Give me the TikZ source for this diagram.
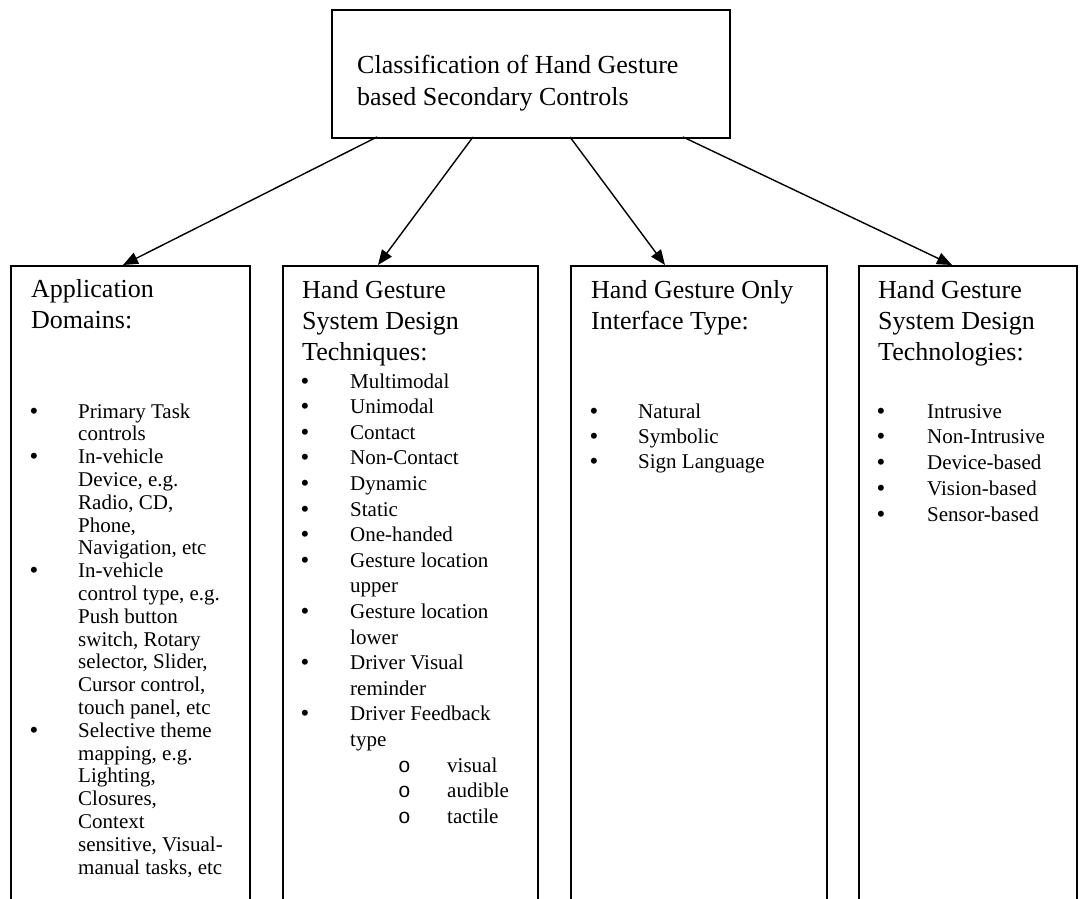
\documentclass[tikz,border=0pt]{standalone}
\usepackage{fontspec}
\setmainfont{Liberation Serif}
\setmonofont{Liberation Mono}
\usetikzlibrary{arrows.meta}
\newcommand\bodyfnt{\fontsize{21}{21}\selectfont}
\newcommand\headfnt{\fontsize{26}{26}\selectfont}
\newcommand\bulfnt{\fontsize{22}{22}\selectfont\bfseries}
\tikzset{
  boxnode/.style={draw=black, line width=1.8pt, fill=none, inner sep=0pt, anchor=north west},
  txt/.style={anchor=base west, inner sep=0pt, font=\bodyfnt, text height=15pt, text depth=4pt},
  bul/.style={anchor=base west, inner sep=0pt, font=\bulfnt, text height=13pt, text depth=0pt},
  head/.style={anchor=base west, inner sep=0pt, font=\headfnt},
  arr/.style={line width=1.4pt, -{Triangle[length=15pt,width=12pt]}}
}
\begin{document}
\begin{tikzpicture}[x=1pt,y=-1pt]
\useasboundingbox (0,0) rectangle (1088,899);
\fill[white] (0,0) rectangle (1088,899);
\begin{scope}
\clip (0,0) rectangle (1088,899);
% top box
\node[boxnode, minimum width=398pt, minimum height=128pt] (top) at (331,9) {};
\node[head] (t1) at (357,74) {Classification of Hand Gesture};
\node[head] (t2) at (357,106) {based Secondary Controls};
% lower boxes
\node[boxnode, minimum width=239pt, minimum height=700pt] (b1) at (10,265) {};
\node[boxnode, minimum width=255pt, minimum height=700pt] (b2) at (282,265) {};
\node[boxnode, minimum width=256pt, minimum height=700pt] (b3) at (570,265) {};
\node[boxnode, minimum width=218pt, minimum height=700pt] (b4) at (858,265) {};
\end{scope}
% connectors
\coordinate (s1) at (377,137); \coordinate (e1) at (123,265);
\coordinate (s2) at (473,137); \coordinate (e2) at (378,265);
\coordinate (s3) at (570,137); \coordinate (e3) at (665,265);
\coordinate (s4) at (683,137); \coordinate (e4) at (952,265);
\draw[arr] (s1) -- (e1);
\draw[arr] (s2) -- (e2);
\draw[arr] (s3) -- (e3);
\draw[arr] (s4) -- (e4);
% headings
\node[head] (h11) at (31,297) {Application};
\node[head] (h12) at (31,328) {Domains:};
\node[head] (h21) at (302,298) {Hand Gesture};
\node[head] (h22) at (302,329) {System Design};
\node[head] (h23) at (302,360) {Techniques:};
\node[head] (h31) at (591,298) {Hand Gesture Only};
\node[head] (h32) at (591,329) {Interface Type:};
\node[head] (h41) at (878,298) {Hand Gesture};
\node[head] (h42) at (878,329) {System Design};
\node[head] (h43) at (878,360) {Technologies:};
% box 1 items
\foreach \k/\s [count=\i] in {b/{Primary Task}, c/{controls}, b/{In-vehicle}, c/{Device, e.g.}, c/{Radio, CD,}, c/{Phone,}, c/{Navigation, etc}, b/{In-vehicle}, c/{control type, e.g.}, c/{Push button}, c/{switch, Rotary}, c/{selector, Slider,}, c/{Cursor control,}, c/{touch panel, etc}, b/{Selective theme}, c/{mapping, e.g.}, c/{Lighting,}, c/{Closures,}, c/{Context}, c/{sensitive, Visual-}, c/{manual tasks, etc}}{
  \node[txt] (p1l\i) at (78,{418+(\i-1)*22.8}) {\s};
  \if\k b \node[bul] (q1l\i) at (30,{418+(\i-1)*22.8}) {•};\fi
}
% box 2 items
\foreach \k/\s [count=\i] in {b/{Multimodal}, b/{Unimodal}, b/{Contact}, b/{Non-Contact}, b/{Dynamic}, b/{Static}, b/{One-handed}, b/{Gesture location}, c/{upper}, b/{Gesture location}, c/{lower}, b/{Driver Visual}, c/{reminder}, b/{Driver Feedback}, c/{type}, s/{visual}, s/{audible}, s/{tactile}}{
  \if\k s
    \node[txt] (p2l\i) at (447,{388+(\i-1)*25.6}) {\s};
    \node[txt, font=\bodyfnt\ttfamily] (q2l\i) at (398,{388+(\i-1)*25.6}) {o};
  \else
    \node[txt] (p2l\i) at (350,{388+(\i-1)*25.6}) {\s};
  \fi
  \if\k b \node[bul] (q2l\i) at (301,{388+(\i-1)*25.6}) {•};\fi
}
% box 3 items
\foreach \s [count=\i] in {Natural, Symbolic, Sign Language}{
  \node[txt] (p3l\i) at (638,{418+(\i-1)*25}) {\s};
  \node[bul] (q3l\i) at (590,{418+(\i-1)*25}) {•};
}
% box 4 items
\foreach \s [count=\i] in {Intrusive, Non-Intrusive, Device-based, Vision-based, Sensor-based}{
  \node[txt] (p4l\i) at (927,{418+(\i-1)*25.8}) {\s};
  \node[bul] (q4l\i) at (877,{418+(\i-1)*25.8}) {•};
}
\end{tikzpicture}
\end{document}
